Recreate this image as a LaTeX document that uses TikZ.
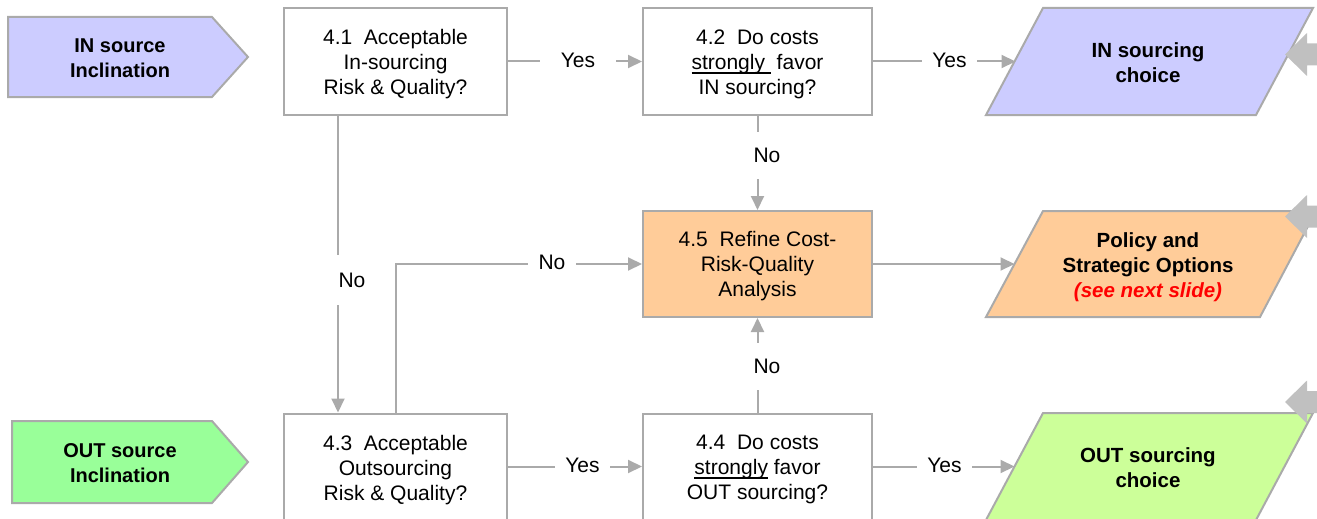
\documentclass[tikz,border=0pt]{standalone}
\usepackage{fontspec}
\setmainfont{Liberation Sans}
\usetikzlibrary{arrows.meta}

\definecolor{linegray}{RGB}{170,170,170}
\definecolor{blockgray}{RGB}{192,192,192}
\definecolor{inblue}{RGB}{204,204,255}
\definecolor{refineorange}{RGB}{255,204,153}
\definecolor{outgreen}{RGB}{153,255,153}
\definecolor{choicegreen}{RGB}{204,255,153}
\definecolor{notered}{RGB}{255,0,0}

% underline that runs through the descenders, as in the slide
\newcommand{\ulword}[1]{\leavevmode\setbox0=\hbox{#1}\rlap{\rule[-4.5pt]{\wd0}{1.3pt}}\box0\relax}
\newcommand{\slidefont}{\fontsize{21}{25}\selectfont}
\newcommand{\tagfont}{\fontsize{20.5}{25}\selectfont\bfseries}

\begin{document}
\begin{tikzpicture}[x=1pt,y=-1pt,
  box/.style={draw=linegray, line width=2pt, minimum width=223pt, minimum height=106pt,
              align=center, inner sep=0pt, font=\slidefont},
  boxtext/.style={align=center, inner sep=0pt, font=\slidefont},
  conn/.style={draw=linegray, line width=2pt, -{Triangle[length=14pt,width=13pt]}},
  lbl/.style={fill=white, font=\slidefont, text height=15pt, text depth=0pt,
              inner xsep=2pt, inner ysep=2pt},
  tag/.style={align=center, font=\tagfont, inner sep=0pt},
  outline/.style={draw=linegray, line width=2pt},
  block/.style={fill=blockgray}]

\clip (0,0) rectangle (1317,519);

% ---- start points (pentagons)
\path[outline, fill=inblue] (8,17) -- (212,17) -- (248,57) -- (212,97) -- (8,97) -- cycle;
\node[tag, font=\fontsize{20}{25}\selectfont\bfseries] (insrc) at (120,58.5) {IN source\\Inclination};
\path[outline, fill=outgreen] (12,421) -- (212,421) -- (248,462) -- (212,503) -- (12,503) -- cycle;
\node[tag, font=\fontsize{20}{25}\selectfont\bfseries] (outsrc) at (120,463.5) {OUT source\\Inclination};

% ---- decision boxes (frame first, text set a little below the frame centre)
\node[box] (q41) at (395.5,61.5) {};
\node[boxtext] (t41) at ([yshift=-2.5pt]q41.center) {4.1~ Acceptable\\In-sourcing\\Risk \& Quality?};
\node[box, minimum width=229pt] (q42) at (757.5,61.5) {};
\node[boxtext] (t42) at ([yshift=-2.5pt]q42.center) {4.2~ Do costs\\\ulword{strongly\ }\ favor\\IN sourcing?};
\node[box, minimum width=229pt, fill=refineorange] (q45) at (757.5,264) {};
\node[boxtext] (t45) at ([yshift=-2.5pt]q45.center) {4.5~ Refine Cost-\\Risk-Quality\\Analysis};
\node[box] (q43) at (395.5,466.5) {};
\node[boxtext] (t43) at ([yshift=-4pt]q43.center) {4.3~ Acceptable\\Outsourcing\\Risk \& Quality?};
\node[box, minimum width=229pt] (q44) at (757.5,466.5) {};
\node[boxtext] (t44) at ([yshift=-2.5pt]q44.center) {4.4~ Do costs\\\ulword{strongly} favor\\OUT sourcing?};

% ---- outcomes (parallelograms)
\path[outline, fill=inblue] (986,115) -- (1043,8) -- (1313,8) -- (1256,115) -- cycle;
\node[tag] (inchoice) at (1148,63) {IN sourcing\\choice};
\coordinate (inchoice-w) at (1015.5,61.5);

\path[outline, fill=refineorange] (986,317) -- (1043,211) -- (1316,211) -- (1260,317) -- cycle;
\node[tag] (policy) at (1148,267) {Policy and\\Strategic Options\\{\color{notered}\itshape (see next slide)}};
\coordinate (policy-w) at (1014.5,264);

\path[outline, fill=choicegreen] (986,520) -- (1043,413) -- (1313,413) -- (1256,520) -- cycle;
\node[tag] (outchoice) at (1148,467.5) {OUT sourcing\\choice};
\coordinate (outchoice-w) at (1014.5,466.5);

% ---- incoming block arrows at the right edge
\fill[block] (1285,54.5) -- (1307,33) -- (1307,43.5) -- (1320,43.5) -- (1320,65.5) -- (1307,65.5) -- (1307,76) -- cycle;
\fill[block] (1285,216.5) -- (1307,195) -- (1307,205.5) -- (1320,205.5) -- (1320,227.5) -- (1307,227.5) -- (1307,238) -- cycle;
\fill[block] (1285,402) -- (1307,380.5) -- (1307,391) -- (1320,391) -- (1320,413) -- (1307,413) -- (1307,423.5) -- cycle;

% ---- connectors
\draw[conn] (q41.east) -- (q42.west);
\draw[conn] (q42.east) -- (inchoice-w);
\draw[conn] (q42.south) -- (q45.north);
\draw[conn] ([xshift=-57.5pt]q41.south) -- ([xshift=-57.5pt]q43.north);
\draw[conn] (q43.north) |- (q45.west);
\draw[conn] (q45.east) -- (policy-w);
\draw[conn] (q44.north) -- (q45.south);
\draw[conn] (q43.east) -- (q44.west);
\draw[conn] (q44.east) -- (outchoice-w);

% ---- connector labels
\node[lbl, inner xsep=21pt] (yes1) at (578,60) {Yes};
\node[lbl, inner xsep=10.5pt] (yes2) at (949.5,60) {Yes};
\node[lbl, inner ysep=16pt] (no1) at (767,155) {No};
\node[lbl, inner ysep=17.5pt] (no2) at (352,280) {No};
\node[lbl, inner xsep=11pt] (no3) at (552,262) {No};
\node[lbl, inner ysep=16pt] (no4) at (767,366) {No};
\node[lbl, inner xsep=10.5pt] (yes3) at (582.5,465) {Yes};
\node[lbl, inner xsep=10pt] (yes4) at (944.5,465) {Yes};

\end{tikzpicture}
\end{document}
